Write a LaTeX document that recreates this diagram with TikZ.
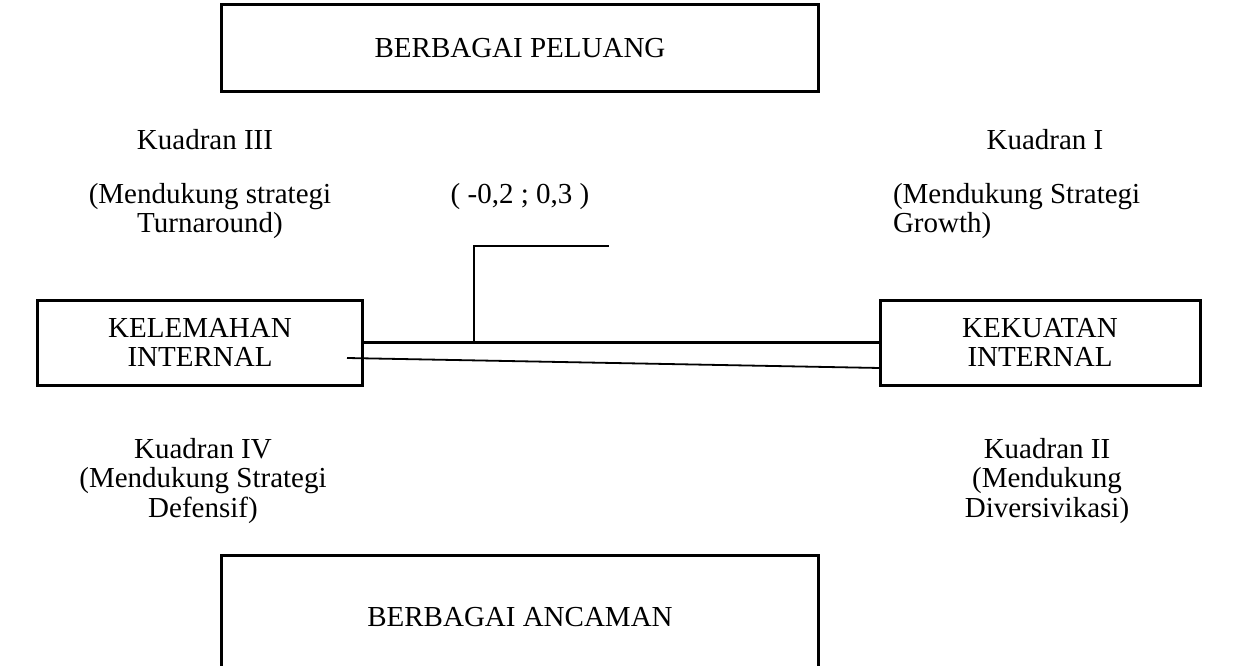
\documentclass[tikz,border=0pt]{standalone}
\usepackage{fontspec}
\setmainfont{Liberation Serif}
\usetikzlibrary{calc}
\begin{document}
\begin{tikzpicture}[x=1bp,y=-1bp,
  every node/.style={inner sep=0pt,outer sep=0pt,font=\fontsize{29bp}{29.5bp}\selectfont},
  box/.style={draw,line width=3bp},
  lbl/.style={align=center},
  lbll/.style={align=left,anchor=west}]
\useasboundingbox (0,0) rectangle (1239,666);
% boxes
\node[box,minimum width=596bp,minimum height=87bp] (peluang) at (520,48.5) {BERBAGAI PELUANG};
\node[box,minimum width=324bp,minimum height=85bp,lbl] (lemah) at (200,342.5) {KELEMAHAN\\INTERNAL};
\node[box,minimum width=320bp,minimum height=85bp,lbl] (kuat) at (1040,342.5) {KEKUATAN\\INTERNAL};
\node[box,minimum width=596bp,minimum height=130bp,text depth=0pt] (ancam) at (520,620) {};
\node (ancamtxt) at (520,617) {BERBAGAI ANCAMAN};
% quadrant labels
\node[lbl] (k3) at (205,140) {Kuadran III};
\node[lbl] (k3t) at (210,211) {(Mendukung strategi\\Turnaround)};
\node[lbl] (k1) at (1045,140) {Kuadran I};
\node[lbll] (k1t) at (893,211) {(Mendukung Strategi\\Growth)};
\node[lbl] (pt) at (520,197) {( -0,2 ; 0,3 )};
\node[lbl] (k4) at (203,481) {Kuadran IV\\(Mendukung Strategi\\Defensif)};
\node[lbl] (k2) at (1047,481) {Kuadran II\\(Mendukung\\Diversivikasi)};
% connectors
\draw[line width=3bp] (lemah.east) -- (kuat.west);
\coordinate (s1) at ($(lemah.east)+(-15,15.5)$);
\coordinate (s2) at ($(kuat.west)+(0,25.5)$);
\draw[line width=1.8bp] (s1) -- (s2);
\coordinate (b0) at (474,342.5);
\coordinate (b1) at (474,246);
\coordinate (b2) at (609,246);
\draw[line width=1.5bp] (b0) -- (b1) -- (b2);
\end{tikzpicture}
\end{document}
